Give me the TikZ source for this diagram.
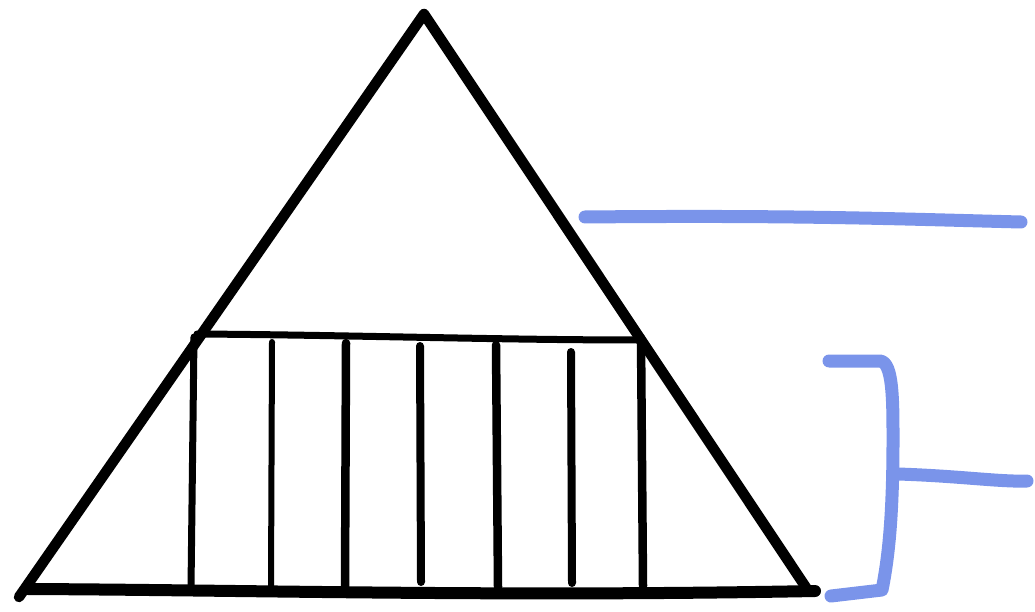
\documentclass[tikz,border=0pt]{standalone}
\definecolor{penblue}{RGB}{122,148,234}
\tikzset{
  ink/.style={draw=black, line cap=round, line join=round},
  blue pen/.style={draw=penblue, line width=13pt, line cap=round, line join=round},
}
\begin{document}
\begin{tikzpicture}[x=1pt,y=-1pt]
\useasboundingbox (0,0) rectangle (1035,612);
% triangle
\coordinate (apex) at (424,14);
\coordinate (bl) at (19,597);
\coordinate (br) at (807,589);
\draw[ink, line width=10.5pt] (bl) -- (apex) -- (br);
% base
\draw[ink, line width=12pt] (28,589) .. controls (250,590) and (500,597) .. (815,591);
% rectangle top
\draw[ink, line width=7pt] (197,334) .. controls (350,335) and (500,340) .. (640,340);
% verticals
\draw[ink, line width=7pt] (194,337) -- (191,588);
\draw[ink, line width=6pt] (272,342) -- (271,586);
\draw[ink, line width=8.5pt] (346,343) -- (345,587);
\draw[ink, line width=8pt] (420,346) -- (421,582);
\draw[ink, line width=8.5pt] (496,345) -- (498,587);
\draw[ink, line width=8pt] (571,352) -- (572,583);
\draw[ink, line width=8.5pt] (641,338) -- (643,586);
% blue line
\draw[blue pen] (585,217) .. controls (800,215) and (900,219) .. (1021,222);
% bracket
\draw[blue pen] (829,361) -- (880,361) .. controls (893,362) and (893,400) .. (893,440)
  .. controls (893,520) and (888,560) .. (882,590) -- (831,596);
\draw[blue pen] (898,474) .. controls (960,476) and (1000,482) .. (1027,481);
\end{tikzpicture}
\end{document}
